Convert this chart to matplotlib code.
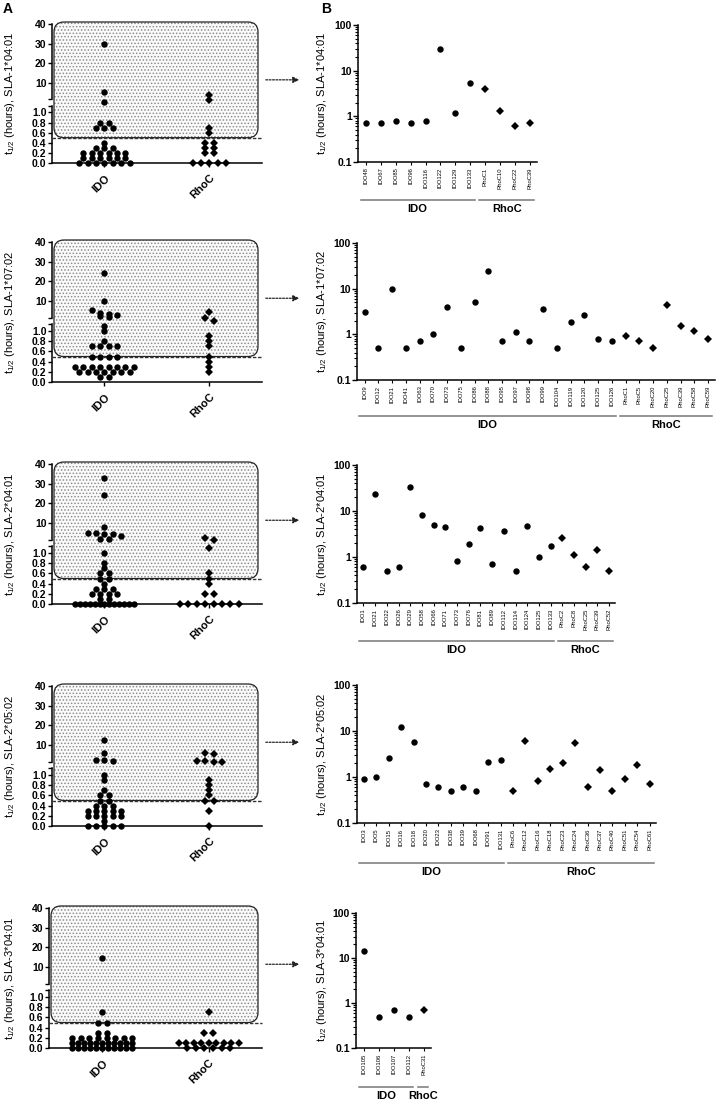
"""
Half-life scatter (panel A, segmented axis) and per-peptide log plots (panel B)
for five SLA alleles.
"""

import matplotlib
matplotlib.use("Agg")

import matplotlib.pyplot as plt
import numpy as np
from matplotlib.patches import FancyArrowPatch, FancyBboxPatch
from matplotlib.ticker import FixedLocator, LogLocator, NullFormatter

plt.rcParams["font.family"] = ["Liberation Sans", "DejaVu Sans"]
plt.rcParams["mathtext.fontset"] = "custom"
plt.rcParams["mathtext.rm"] = "Liberation Sans"
plt.rcParams["mathtext.default"] = "regular"
plt.rcParams["hatch.color"] = "#8c8c8c"
plt.rcParams["hatch.linewidth"] = 0.7

W, H = 721, 1102

# --- data -------------------------------------------------------------------
alleles = ["SLA-1*04:01", "SLA-1*07:02", "SLA-2*04:01", "SLA-2*05:02", "SLA-3*04:01"]

b1_labels = ["IDO48", "IDO67", "IDO85", "IDO96", "IDO116", "IDO122", "IDO129", "IDO133",
             "RhoC1", "RhoC10", "RhoC22", "RhoC39"]
b1_values = [0.7, 0.7, 0.8, 0.7, 0.8, 30, 1.2, 5.4, 3.9, 1.3, 0.6, 0.7]

b2_labels = ["IDO9", "IDO12", "IDO21", "IDO41", "IDO63", "IDO70", "IDO73", "IDO75", "IDO86",
             "IDO88", "IDO95", "IDO97", "IDO98", "IDO99", "IDO104", "IDO119", "IDO120",
             "IDO125", "IDO126", "RhoC1", "RhoC5", "RhoC20", "RhoC25", "RhoC39", "RhoC58",
             "RhoC59"]
b2_values = [3.1, 0.5, 10, 0.5, 0.7, 1.0, 4.0, 0.5, 5.2, 24, 0.7, 1.1, 0.7, 3.5, 0.5, 1.9,
             2.6, 0.8, 0.7, 0.9, 0.7, 0.5, 4.4, 1.5, 1.2, 0.8]

b3_labels = ["IDO1", "IDO21", "IDO22", "IDO26", "IDO29", "IDO58", "IDO66", "IDO71", "IDO73",
             "IDO76", "IDO81", "IDO89", "IDO112", "IDO114", "IDO124", "IDO125", "IDO133",
             "RhoC2", "RhoC8", "RhoC25", "RhoC39", "RhoC52"]
b3_values = [0.6, 24, 0.5, 0.6, 33, 8.0, 4.9, 4.4, 0.8, 1.9, 4.2, 0.7, 3.6, 0.5, 4.7, 1.0,
             1.7, 2.6, 1.1, 0.6, 1.4, 0.5]

b4_labels = ["IDO3", "IDO5", "IDO15", "IDO16", "IDO18", "IDO20", "IDO23", "IDO38", "IDO39",
             "IDO68", "IDO91", "IDO131", "RhoC6", "RhoC12", "RhoC16", "RhoC18", "RhoC23",
             "RhoC24", "RhoC36", "RhoC37", "RhoC40", "RhoC51", "RhoC54", "RhoC61"]
b4_values = [0.9, 1.0, 2.6, 12.5, 5.8, 0.7, 0.6, 0.5, 0.6, 0.5, 2.1, 2.3, 0.5, 6.0, 0.8,
             1.5, 2.0, 5.6, 0.6, 1.4, 0.5, 0.9, 1.8, 0.7]

b5_labels = ["IDO105", "IDO106", "IDO107", "IDO112", "RhoC31"]
b5_values = [14.6, 0.5, 0.7, 0.5, 0.7]

# peptides below the 0.5 h cut-off (only shown in panel A)
a1_ido_low = [0.4, 0.3, 0.3, 0.3, 0.2, 0.2, 0.2, 0.2, 0.2, 0.2, 0.1, 0.1, 0.1, 0.1, 0.1, 0.1,
              0.0, 0.0, 0.0, 0.0, 0.0, 0.0, 0.0]
a1_rhoc_low = [0.4, 0.4, 0.3, 0.3, 0.2, 0.2, 0.0, 0.0, 0.0, 0.0, 0.0]
a2_ido_low = [0.3, 0.3, 0.3, 0.3, 0.3, 0.3, 0.3, 0.3, 0.2, 0.2, 0.2, 0.2, 0.2, 0.2, 0.2,
              0.1, 0.1]
a2_rhoc_low = [0.4, 0.3, 0.2]
a3_ido_low = [0.4, 0.3, 0.3, 0.3, 0.2, 0.2, 0.2, 0.2, 0.1, 0.1, 0.0, 0.0, 0.0, 0.0, 0.0, 0.0,
              0.0, 0.0, 0.0, 0.0, 0.0, 0.0, 0.0]
a3_rhoc_low = [0.4, 0.2, 0.2, 0.0, 0.0, 0.0, 0.0, 0.0, 0.0, 0.0, 0.0]
a4_ido_low = [0.4, 0.4, 0.4, 0.3, 0.3, 0.3, 0.3, 0.3, 0.2, 0.2, 0.2, 0.2, 0.2, 0.1,
              0.0, 0.0, 0.0, 0.0, 0.0]
a4_rhoc_low = [0.3, 0.0]
a5_ido_low = [0.3, 0.3, 0.2, 0.2, 0.2, 0.2, 0.2, 0.2, 0.2, 0.2, 0.1, 0.1, 0.1, 0.1, 0.1, 0.1,
              0.1, 0.1, 0.1, 0.1, 0.1, 0.0, 0.0, 0.0, 0.0, 0.0, 0.0, 0.0, 0.0, 0.0, 0.0, 0.0]
a5_rhoc_low = [0.3, 0.3, 0.1, 0.1, 0.1, 0.1, 0.1, 0.1, 0.1, 0.1, 0.1, 0.0, 0.0, 0.0, 0.0,
               0.0, 0.0]

a_ticks = [0.0, 0.2, 0.4, 0.6, 0.8, 1.0, 10, 20, 30, 40]
a_ticklabels = ["0.0", "0.2", "0.4", "0.6", "0.8", "1.0", "10", "20", "30", "40"]
b_ticks = [0.1, 1, 10, 100]
b_ticklabels = ["0.1", "1", "10", "100"]
CUTOFF = 0.5

# --- layout (pixels) ---------------------------------------------------------
A_RECTS = [(52, 262, 24, 163), (52, 262, 242, 382), (52, 262, 464, 604),
           (52, 262, 686, 826), (49, 262, 908, 1048)]
B_RECTS = [(358, 537, 25, 162), (357, 715, 243, 380), (357, 615, 465, 603),
           (357, 656, 685, 823), (356, 431, 913, 1048)]
BRACKET_DROP = [38, 36, 38, 40, 39]

# segmented axis: linear 0-1.25 then compressed upper segment
BRK = 1.25
UPPER = 0.0386


def fwd(v):
    v = np.asarray(v, dtype=float)
    return np.where(v <= BRK, v, BRK + (v - BRK) * UPPER)


def inv(u):
    u = np.asarray(u, dtype=float)
    return np.where(u <= BRK, u, BRK + (u - BRK) / UPPER)


def px_axes(fig, rect):
    x0, x1, y0, y1 = rect
    return fig.add_axes([x0 / W, 1 - y1 / H, (x1 - x0) / W, (y1 - y0) / H])


def swarm_x(values, center, step=0.08, max_width=0.56, tol=0.09):
    """Column-scatter offsets: points of (nearly) equal height spread side by side."""
    vals = np.asarray(values, dtype=float)
    order = np.argsort(-vals, kind="stable")
    xs = np.zeros(len(vals))
    rows = []
    for i in order:
        fv = float(fwd(vals[i]))
        if rows and abs(rows[-1][0] - fv) < tol:
            rows[-1][1].append(i)
        else:
            rows.append([fv, [i]])
    for _, idx in rows:
        n = len(idx)
        s = step if n < 2 else min(step, max_width / (n - 1))
        xs[idx] = center + (np.arange(n) - (n - 1) / 2) * s
    return xs


def panel_a(fig, rect, ido, rhoc, allele):
    ax = px_axes(fig, rect)
    ax.set_yscale("function", functions=(fwd, inv))
    ax.set_ylim(0, 40)
    ax.set_xlim(-0.5, 1.5)
    for s in ("top", "right", "left"):
        ax.spines[s].set_visible(False)
    ax.spines["bottom"].set_linewidth(1.1)

    # broken left spine
    yt = ax.get_yaxis_transform()
    ax.plot([0, 0], [0, 1.13], transform=yt, color="black", lw=1.1, clip_on=False)
    ax.plot([0, 0], [1.55, 40], transform=yt, color="black", lw=1.1, clip_on=False)

    ax.yaxis.set_major_locator(FixedLocator(a_ticks))
    ax.set_yticklabels(a_ticklabels, fontsize=7.5, fontweight="bold")
    ax.yaxis.set_minor_locator(FixedLocator([1.13, 1.55]))
    ax.yaxis.set_minor_formatter(NullFormatter())
    ax.tick_params(axis="y", which="both", length=3, width=1, pad=1)
    ax.set_xticks([0, 1])
    ax.set_xticklabels(["IDO", "RhoC"], rotation=45, ha="right", va="top",
                       rotation_mode="anchor", fontsize=8, fontweight="bold")
    ax.tick_params(axis="x", length=3, width=1, pad=4)
    ax.set_ylabel("t$_{1/2}$ (hours), " + allele, fontsize=8)
    w_px = rect[1] - rect[0]
    h_px = rect[3] - rect[2]
    ax.yaxis.set_label_coords((17 - rect[0]) / w_px, 0.5)

    # dotted box over the peptides kept for panel B
    y_cut = ax.transAxes.inverted().transform(ax.transData.transform((0, CUTOFF)))[1]
    bx0, bx1, by1 = 2 / w_px, (w_px - 4) / w_px, 1 + 2 / h_px
    style = "round,pad=0,rounding_size=%.4f" % (10 / w_px)
    shade = FancyBboxPatch((bx0, y_cut), bx1 - bx0, by1 - y_cut, boxstyle=style,
                           transform=ax.transAxes, mutation_aspect=w_px / h_px,
                           facecolor="#fbfbfb", edgecolor="#8c8c8c", linewidth=0,
                           hatch=".....", clip_on=False, zorder=1)
    frame = FancyBboxPatch((bx0, y_cut), bx1 - bx0, by1 - y_cut, boxstyle=style,
                           transform=ax.transAxes, mutation_aspect=w_px / h_px,
                           fill=False, edgecolor="#222222", linewidth=0.9,
                           clip_on=False, zorder=2)
    ax.add_patch(shade)
    ax.add_patch(frame)
    ax.plot([0, 1.0], [CUTOFF, CUTOFF], transform=yt, color="#333333", lw=1,
            ls=(0, (2.5, 1.2)), clip_on=False, zorder=2)

    ax.plot(swarm_x(ido, 0), ido, "o", color="black", ms=4.6, mew=0,
            clip_on=False, zorder=3)
    ax.plot(swarm_x(rhoc, 1), rhoc, "D", color="black", ms=4.0, mew=0,
            clip_on=False, zorder=3)

    # dotted arrow to the matching panel B
    yc = rect[2] + (1 - (by1 + y_cut) / 2) * h_px
    arrow = FancyArrowPatch((263 / W, 1 - yc / H), (302 / W, 1 - yc / H),
                            transform=fig.transFigure, arrowstyle="-|>",
                            mutation_scale=9, color="#222222", lw=0.9,
                            linestyle=(0, (1.5, 1.2)))
    fig.add_artist(arrow)
    return ax


def panel_b(fig, rect, labels, values, allele, drop):
    ax = px_axes(fig, rect)
    n = len(values)
    n_ido = sum(lab.startswith("IDO") for lab in labels)
    x = np.arange(n)
    vals = np.asarray(values, dtype=float)
    ax.set_yscale("log")
    ax.set_ylim(0.1, 100)
    ax.set_xlim(-0.55, n - 0.5)
    for s in ("top", "right"):
        ax.spines[s].set_visible(False)
    for s in ("left", "bottom"):
        ax.spines[s].set_linewidth(1.1)

    ax.plot(x[:n_ido], vals[:n_ido], "o", color="black", ms=4.6, mew=0, clip_on=False)
    ax.plot(x[n_ido:], vals[n_ido:], "D", color="black", ms=4.0, mew=0, clip_on=False)

    ax.yaxis.set_major_locator(FixedLocator(b_ticks))
    ax.set_yticklabels(b_ticklabels, fontsize=7.5, fontweight="bold")
    ax.yaxis.set_minor_locator(LogLocator(base=10, subs=np.arange(2, 10)))
    ax.yaxis.set_minor_formatter(NullFormatter())
    ax.tick_params(axis="y", which="major", length=3.5, width=1, pad=1)
    ax.tick_params(axis="y", which="minor", length=2, width=0.8)
    ax.set_xticks(x)
    ax.set_xticklabels(labels, rotation=90, fontsize=4.2)
    ax.tick_params(axis="x", length=2.5, width=0.8, pad=1.5)

    w_px = rect[1] - rect[0]
    h_px = rect[3] - rect[2]
    ax.set_ylabel("t$_{1/2}$ (hours), " + allele, fontsize=8)
    ax.yaxis.set_label_coords((329 - rect[0]) / w_px, 0.5)

    # group brackets under the peptide names
    xt = ax.get_xaxis_transform()
    y_line = -drop / h_px
    y_text = -(drop + 4) / h_px
    groups = [("IDO", 0, n_ido - 1), ("RhoC", n_ido, n - 1)]
    for name, first, last in groups:
        if last < first:
            continue
        ax.plot([first - 0.38, last + 0.3], [y_line, y_line], transform=xt,
                color="#777777", lw=1.1, clip_on=False)
        ax.text((first + last) / 2 - 0.04, y_text, name, transform=xt, ha="center",
                va="top", fontsize=8, fontweight="bold")
    return ax


def main():
    fig = plt.figure(figsize=(W / 100, H / 100), dpi=100)

    a_low = [(a1_ido_low, a1_rhoc_low), (a2_ido_low, a2_rhoc_low), (a3_ido_low, a3_rhoc_low),
             (a4_ido_low, a4_rhoc_low), (a5_ido_low, a5_rhoc_low)]
    b_rows = [(b1_labels, b1_values), (b2_labels, b2_values), (b3_labels, b3_values),
              (b4_labels, b4_values), (b5_labels, b5_values)]

    for i, allele in enumerate(alleles):
        labels, values = b_rows[i]
        ido_hi = [v for lab, v in zip(labels, values) if lab.startswith("IDO")]
        rhoc_hi = [v for lab, v in zip(labels, values) if lab.startswith("RhoC")]
        ido_all = ido_hi + a_low[i][0]
        rhoc_all = rhoc_hi + a_low[i][1]
        panel_a(fig, A_RECTS[i], ido_all, rhoc_all, allele)
        panel_b(fig, B_RECTS[i], labels, values, allele, BRACKET_DROP[i])

    fig.text(3 / W, 1 - 2 / H, "A", fontsize=10, fontweight="bold", va="top")
    fig.text(321 / W, 1 - 2 / H, "B", fontsize=10, fontweight="bold", va="top")

    fig.savefig("out.png", dpi=100)


if __name__ == "__main__":
    main()
